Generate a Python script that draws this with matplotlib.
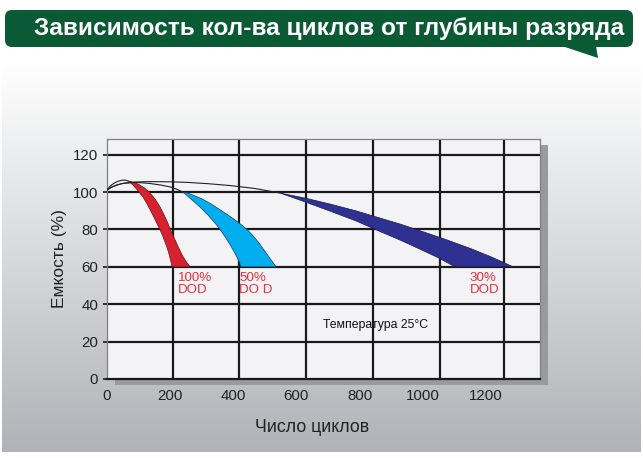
import numpy as np
import matplotlib
matplotlib.use("Agg")
import matplotlib.pyplot as plt
from matplotlib.patches import FancyBboxPatch, Polygon, Rectangle

plt.rcParams["font.family"] = ["Liberation Sans", "DejaVu Sans"]

# --- data (cycles, capacity %) ---
x_ticks = [0, 200, 400, 600, 800, 1000, 1200]
y_ticks = [0, 20, 40, 60, 80, 100, 120]
x_grid = [209, 419, 630, 843, 1055, 1258]

red_lead_x = [0, 8, 16, 26, 36, 47, 58, 67]
red_lead_y = [101, 102.6, 103.9, 105.0, 105.8, 106.3, 106.4, 106.0]
blue_lead_x = [0, 15, 30, 50, 83, 110, 137, 170, 200, 222, 241]
blue_lead_y = [101, 102.6, 103.7, 104.6, 105.1, 105.0, 104.6, 103.8, 102.8, 101.5, 100.0]
navy_lead_x = [0, 12, 25, 40, 58, 90, 137, 200, 254, 320, 390, 470, 548]
navy_lead_y = [101, 102.3, 103.3, 104.2, 104.9, 105.4, 105.6, 105.5, 105.2, 104.5, 103.5, 101.9, 99.5]

red_in_x = [67, 78, 90, 102, 115, 128, 142, 155, 169, 177, 184, 191, 197, 202, 207]
red_in_y = [106.0, 104.6, 102.5, 100.1, 97.3, 93.6, 89.0, 84.6, 79.7, 76.6, 73.5, 70.3, 67.0, 63.6, 60.0]
red_out_x = [83, 100, 118, 137, 153, 168, 181, 192, 202, 214, 226, 238, 251, 264]
red_out_y = [105.3, 104.2, 102.4, 99.5, 96.3, 92.3, 88.0, 84.0, 79.8, 75.3, 70.8, 66.6, 62.9, 60.0]

blue_in_x = [241, 255, 270, 288, 305, 320, 333, 347, 359, 371, 381, 391, 400, 408, 414, 420, 425]
blue_in_y = [100.0, 98.0, 95.8, 93.1, 90.4, 87.8, 85.3, 82.6, 79.9, 77.0, 74.4, 71.7, 69.0, 66.6, 64.5, 62.3, 60.0]
blue_out_x = [257, 300, 330, 359, 385, 410, 430, 447, 465, 483, 500, 518, 536]
blue_out_y = [99.5, 96.5, 93.7, 90.5, 87.6, 84.6, 82.0, 79.5, 76.3, 72.5, 68.5, 64.2, 60.0]

navy_in_x = [548, 630, 707, 790, 865, 930, 992, 1050, 1102]
navy_in_y = [99.5, 94.6, 89.8, 84.5, 78.9, 74.2, 69.4, 64.8, 60.0]
navy_out_x = [548, 630, 707, 790, 865, 930, 992, 1070, 1150, 1220, 1286]
navy_out_y = [99.5, 96.7, 93.6, 89.9, 86.1, 82.8, 79.3, 74.8, 69.9, 65.1, 60.0]

dod_labels = ["100%\nDOD", "50%\nDO D", "30%\nDOD"]
dod_x = [224, 420, 1148]

W, H = 643, 458
fig = plt.figure(figsize=(W / 100, H / 100), dpi=100)

# background panel with vertical gradient (pixel coordinates)
bg = fig.add_axes([0, 0, 1, 1], zorder=-10)
bg.set_xlim(0, W)
bg.set_ylim(H, 0)
bg.axis("off")
top_c = np.array([1.0, 1.0, 1.0])
bot_c = np.array([0.69, 0.70, 0.72])
t = np.linspace(0, 1, 256)[:, None]
grad = (top_c + (bot_c - top_c) * t)[:, None, :]
bg.imshow(grad, extent=(2, 641, 452, 62), aspect="auto", interpolation="bilinear")

# title banner
bg.add_patch(FancyBboxPatch((5, 10), 628, 37, boxstyle="round,pad=0,rounding_size=7",
                            fc="#0b5a36", ec="none"))
bg.add_patch(Polygon([(562, 46), (596, 46), (598, 58)], closed=True, fc="#0b5a36", ec="none"))
bg.text(329, 28.5, "Зависимость кол-ва циклов от глубины разряда", color="white",
        fontsize=17.6, fontweight="bold", ha="center", va="center")

# plot shadow
ax_l, ax_r, ax_t, ax_b = 106.7, 540, 139, 379
bg.add_patch(Rectangle((ax_l + 8, ax_t + 6), ax_r - ax_l, ax_b - ax_t, fc="#999a9d", ec="none"))

ax = fig.add_axes([ax_l / W, (H - ax_b) / H, (ax_r - ax_l) / W, (ax_b - ax_t) / H])
ax.set_facecolor("#f3f3f6")
ax.set_xlim(0, 1371)
ax.set_ylim(0, 128.4)

for yv in y_ticks[1:]:
    ax.axhline(yv, color="#1a1a1a", lw=1.6, zorder=1)
for xv in x_grid:
    ax.axvline(xv, color="#1a1a1a", lw=1.6, zorder=1)

ax.fill(red_in_x + red_out_x[::-1], red_in_y + red_out_y[::-1],
        fc="#d9202e", ec="#5a1a1a", lw=0.5, zorder=3)
ax.fill(blue_in_x + blue_out_x[::-1], blue_in_y + blue_out_y[::-1],
        fc="#00aeef", ec="#1a3a5a", lw=0.5, zorder=3)
ax.fill(navy_in_x + navy_out_x[::-1], navy_in_y + navy_out_y[::-1],
        fc="#2e3192", ec="#1a1a4a", lw=0.5, zorder=3)

for lx, ly in [(red_lead_x, red_lead_y), (blue_lead_x, blue_lead_y), (navy_lead_x, navy_lead_y)]:
    ax.plot(lx, ly, color="#222222", lw=0.8, zorder=4)

for lab, xv in zip(dod_labels, dod_x):
    ax.text(xv, 57.5, lab, color="#e8303c", fontsize=9.6, ha="left", va="top",
            linespacing=1.0, zorder=5)

ax.text(683, 29, "Температура 25°C", fontsize=8.8, color="#111111", ha="left", va="center", zorder=5)

for side in ["top", "right", "left"]:
    ax.spines[side].set_color("#808080")
    ax.spines[side].set_linewidth(0.9)
ax.spines["bottom"].set_color("#1a1a1a")
ax.spines["bottom"].set_linewidth(1.6)

ax.set_xticks(x_ticks)
ax.set_yticks(y_ticks)
ax.tick_params(axis="x", length=0, pad=7, labelsize=10.8, labelcolor="#222222")
ax.tick_params(axis="y", length=3, width=1.2, color="#1a1a1a", pad=3,
               labelsize=10.8, labelcolor="#222222")

ax.set_ylabel("Емкость (%)", fontsize=12.5, color="#222222")
ax.yaxis.label.set_va("center")
ax.yaxis.set_label_coords(-0.108, 0.5)
ax.set_xlabel("Число циклов", fontsize=12.8, color="#222222")
ax.xaxis.label.set_va("center")
ax.xaxis.set_label_coords(0.474, -0.20)

fig.savefig("out.png", dpi=100)
